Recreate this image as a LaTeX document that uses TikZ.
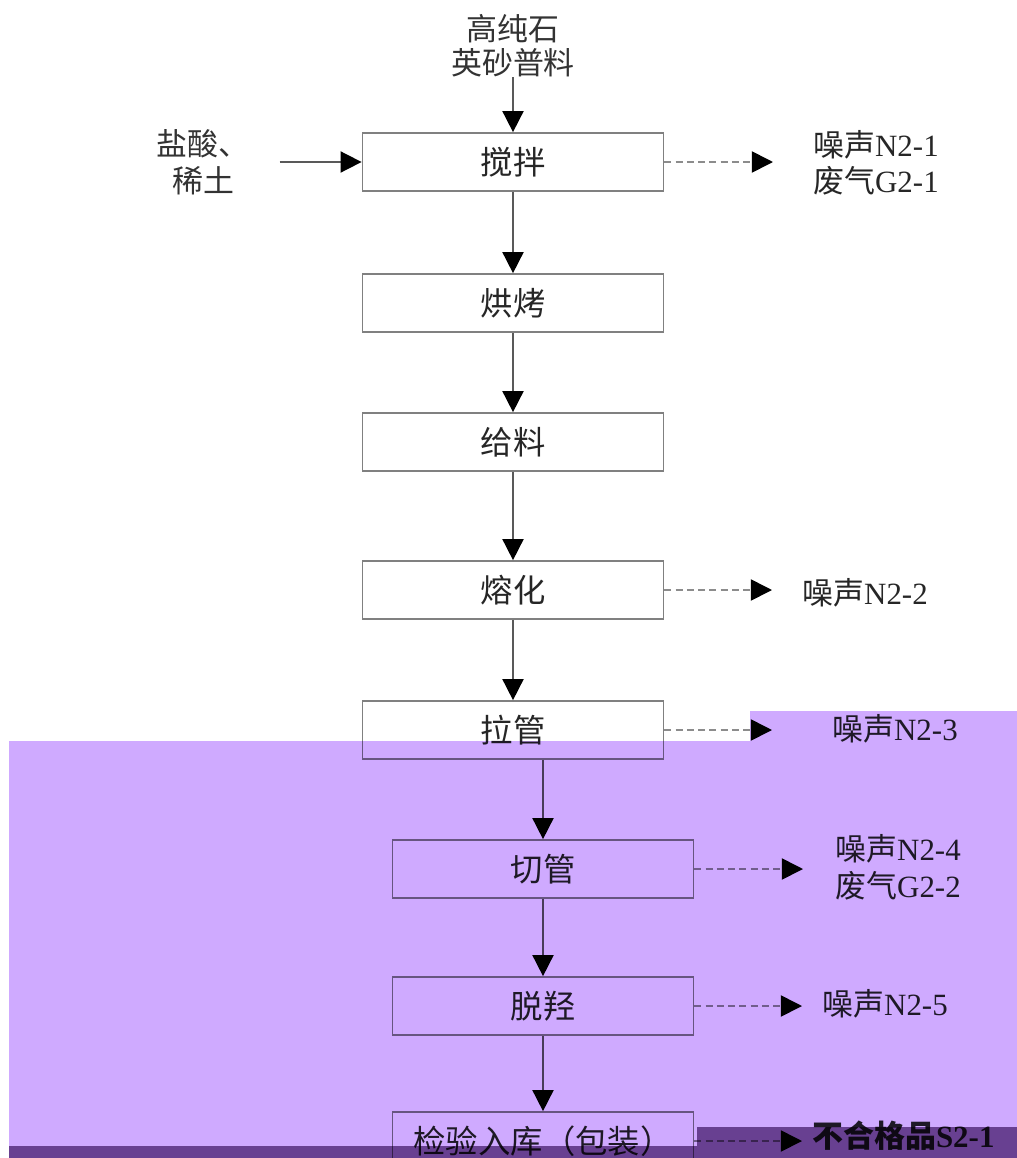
\documentclass[tikz,border=0pt]{standalone}
\usepackage{fontspec}
\setmainfont{Liberation Serif}
\newfontfamily\cjk{Noto Sans CJK SC}
\usetikzlibrary{arrows.meta}
\newcommand{\zh}[1]{{\cjk #1}}
\definecolor{lavande}{RGB}{207,170,255}
\definecolor{violetfonce}{RGB}{129,97,145}

\begin{document}
\begin{tikzpicture}[x=0.025cm,y=-0.025cm]
		\tikzstyle{procede}=[draw=black!50,line width=1.2pt,rectangle,minimum width=7.525cm,minimum height=1.45cm,font=\cjk\fontsize{23}{27}\selectfont,text=black!85]
		\tikzstyle{matiere}=[align=center,inner sep=0pt,font=\cjk\fontsize{22}{26}\selectfont,text=black!80]
		\tikzstyle{rejet}=[align=left,inner sep=0pt,font=\fontsize{22}{26}\selectfont,text=black!85]
		\tikzstyle{fleche}=[draw=black!65,line width=1.2pt,-{Triangle[length=15pt,width=15pt,color=black]}]
		\tikzstyle{pointille}=[fleche,draw=black!45,dash pattern=on 5pt off 3pt]
		\useasboundingbox (0,0) rectangle (1017,1158);
		\clip (0,0) rectangle (1017,1158);
		\node[matiere] (M1) at (513,46){高纯石\\[-2pt]英砂普料};
		\node[matiere] (M2) at (203,162){盐酸、\\稀土};
		\node[procede] (JB) at (513,162){搅拌};
		\node[rejet,anchor=west] (R1) at (813,163){\zh{噪声}N2-1\\\zh{废气}G2-1};
		\node[procede] (HK) at (513,303){烘烤};
		\node[procede] (GL) at (513,442){给料};
		\node[procede] (RH) at (513,590){熔化};
		\node[rejet,anchor=west] (R2) at (802,593){\zh{噪声}N2-2};
		\node[procede] (LG) at (513,730){拉管};
		\node[rejet,anchor=west] (R3) at (832,729){\zh{噪声}N2-3};
		\node[procede] (QG) at (543,869){切管};
		\node[rejet,anchor=west] (R4) at (835,867){\zh{噪声}N2-4\\\zh{废气}G2-2};
		\node[procede] (TQ) at (543,1006){脱羟};
		\node[rejet,anchor=west] (R5) at (822,1004){\zh{噪声}N2-5};
		\node[procede] (JY) at (543,1141){检验入库（包装）};
		\node[rejet,anchor=west] (R6) at (812,1136){\bfseries\zh{不合格品}S2-1};

		\draw[fleche] (M1)--(JB);
		\draw[fleche] (M2.east)++(30,0)--(JB.west);
		\draw[fleche] (JB)--(HK);
		\draw[fleche] (HK)--(GL);
		\draw[fleche] (GL)--(RH);
		\draw[fleche] (RH)--(LG);
		\draw[fleche] (LG.south -| QG.north)--(QG);
		\draw[fleche] (QG)--(TQ);
		\draw[fleche] (TQ)--(JY);
		\draw[pointille,shorten >=1cm] (JB.east)--(JB.east -| R1.west);
		\draw[pointille,shorten >=0.75cm] (RH.east)--(RH.east -| R2.west);
		\draw[pointille,shorten >=1.5cm] (LG.east)--(LG.east -| R3.west);
		\draw[pointille,shorten >=0.8cm] (QG.east)--(QG.east -| R4.west);
		\draw[pointille,shorten >=0.5cm] (TQ.east)--(TQ.east -| R5.west);
		\draw[pointille,shorten >=0.25cm] (JY.east)--(JY.east -| R6.west);

		% bande violette du bas
		\fill[lavande,blend mode=multiply] (9,741)--(750,741)--(750,711)--(1017,711)--(1017,1158)--(9,1158)--cycle;
		\fill[violetfonce,blend mode=multiply] (9,1146) rectangle (1017,1158);
		\fill[violetfonce,blend mode=multiply] (697,1127) rectangle (1017,1146);
	\end{tikzpicture}
\end{document}
